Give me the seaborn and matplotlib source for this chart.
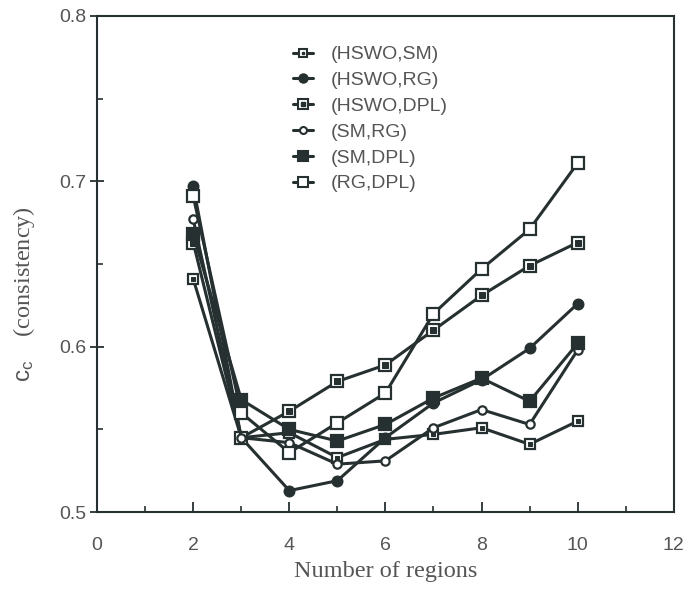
import numpy as np
import pandas as pd
import matplotlib
matplotlib.use("Agg")
import matplotlib.pyplot as plt
import seaborn as sns
from matplotlib.lines import Line2D
from matplotlib.ticker import MultipleLocator

# values
regions = [2, 3, 4, 5, 6, 7, 8, 9, 10]
hswo_sm = [0.641, 0.545, 0.548, 0.533, 0.544, 0.547, 0.551, 0.541, 0.555]
hswo_rg = [0.697, 0.545, 0.513, 0.519, 0.545, 0.566, 0.580, 0.599, 0.626]
hswo_dpl = [0.663, 0.545, 0.561, 0.579, 0.589, 0.610, 0.631, 0.649, 0.663]
sm_rg = [0.677, 0.545, 0.542, 0.529, 0.531, 0.551, 0.562, 0.553, 0.598]
sm_dpl = [0.668, 0.568, 0.550, 0.543, 0.553, 0.569, 0.581, 0.567, 0.602]
rg_dpl = [0.691, 0.560, 0.536, 0.554, 0.572, 0.620, 0.647, 0.671, 0.711]
labels = ["(HSWO,SM)", "(HSWO,RG)", "(HSWO,DPL)", "(SM,RG)", "(SM,DPL)", "(RG,DPL)"]

sns.set_style("white")
plt.rcParams['font.family'] = ['Liberation Sans', 'DejaVu Sans']
plt.rcParams['mathtext.fontset'] = 'custom'
plt.rcParams['mathtext.rm'] = 'Liberation Sans'

dark = "#263030"
grey = "#555555"

# marker style per series: (marker, size, face, centre dot size)
styles = [
    ("s", 7, "white", 2.5),
    ("o", 7, dark, 0),
    ("s", 8, "white", 4),
    ("o", 6, "white", 0),
    ("s", 8, dark, 0),
    ("s", 8, "white", 0),
]
series = [hswo_sm, hswo_rg, hswo_dpl, sm_rg, sm_dpl, rg_dpl]

fig = plt.figure(figsize=(6.84, 5.9), dpi=100)
ax = fig.add_axes([0.142, 0.132, 0.843, 0.841])

handles = []
for vals, lab, (m, ms, fc, dot) in zip(series, labels, styles):
    df = pd.DataFrame({"x": regions, "y": vals})
    sns.lineplot(data=df, x="x", y="y", ax=ax, color=dark, lw=2.2,
                 marker=m, ms=ms, mfc=fc, mec=dark, mew=1.6)
    h = [Line2D([], [], color=dark, lw=2.2, marker=m, ms=ms - 1, mfc=fc, mec=dark, mew=1.5)]
    if dot:
        sns.lineplot(data=df, x="x", y="y", ax=ax, color=dark, lw=0,
                     marker="s", ms=dot, mfc=dark, mec=dark)
        h.append(Line2D([], [], lw=0, marker="s", ms=dot - 0.5, mfc=dark, mec=dark))
    handles.append(tuple(h))

ax.set_xlim(0, 12)
ax.set_ylim(0.5, 0.8)
ax.xaxis.set_major_locator(MultipleLocator(2))
ax.xaxis.set_minor_locator(MultipleLocator(1))
ax.yaxis.set_major_locator(MultipleLocator(0.1))
ax.yaxis.set_minor_locator(MultipleLocator(0.05))
ax.yaxis.set_major_formatter(matplotlib.ticker.FormatStrFormatter('%.1f'))

ax.tick_params(axis='both', which='both', bottom=True, left=True, top=False, right=False)
ax.tick_params(axis='x', which='major', direction='in', length=7, width=1.3,
               colors=dark, labelcolor=grey, labelsize=14, pad=18)
ax.tick_params(axis='x', which='minor', direction='in', length=4, width=1.2, colors=dark)
ax.tick_params(axis='y', which='major', direction='inout', length=10, width=1.3,
               colors=dark, labelcolor=grey, labelsize=14, pad=3)
ax.tick_params(axis='y', which='minor', direction='in', length=4, width=1.2, colors=dark)
for s in ax.spines.values():
    s.set_color(dark)
    s.set_linewidth(1.5)

ax.set_xlabel("Number of regions", family='Liberation Serif', fontsize=17.5, color=grey, labelpad=5)
ax.set_ylabel(r"$\mathrm{c_c}$    (consistency)", family='Liberation Serif', fontsize=17.5,
              color=grey)
ax.yaxis.set_label_coords(-0.105, 0.44)

ax.legend(handles, labels, loc='upper left', bbox_to_anchor=(0.31, 0.975), frameon=False,
          fontsize=14, labelspacing=0.42, handlelength=1.0, handletextpad=0.9,
          labelcolor=grey)

fig.savefig("out.png", dpi=100)
